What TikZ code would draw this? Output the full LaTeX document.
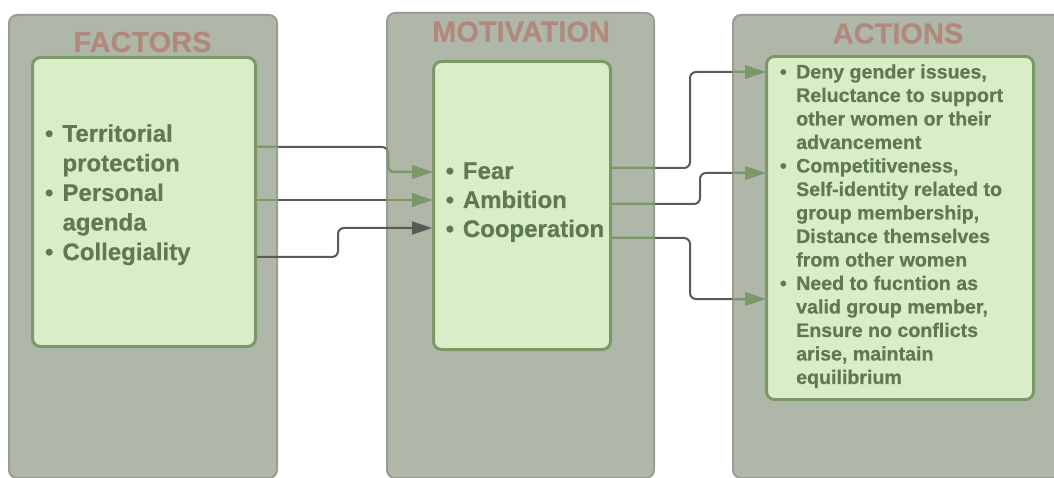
\documentclass[tikz,border=0pt]{standalone}
\usepackage{fontspec}
\setmainfont{Liberation Sans}[BoldFont={Liberation Sans Bold}, BoldFeatures={FakeBold=0.5}]
\usetikzlibrary{arrows.meta}

\definecolor{panelfill}{HTML}{AFB8A8}
\definecolor{panelline}{HTML}{9A9C98}
\definecolor{boxfill}{HTML}{D9EDC8}
\definecolor{boxline}{HTML}{7A9966}
\definecolor{itemtext}{HTML}{5E7A4E}
\definecolor{headtext}{HTML}{B2887C}
\definecolor{wire}{HTML}{595959}
\definecolor{wiregreen}{HTML}{7A9966}

% one bullet column of a given width
\newcommand\bulcol[1]{\makebox[#1][l]{•}}

\begin{document}
\begin{tikzpicture}[x=1pt,y=-1pt,
  panel/.style={draw=panelline, line width=2pt, fill=panelfill,
    rounded corners=8pt, anchor=north west, inner sep=0pt},
  innerbox/.style={draw=boxline, line width=3pt, fill=boxfill,
    rounded corners=8pt, anchor=north west, inner sep=0pt},
  heading/.style={text=headtext, font=\bfseries\fontsize{29}{34}\selectfont,
    anchor=base, inner sep=0pt},
  itemlist/.style={text=itemtext, anchor=base west, inner sep=0pt},
  wireline/.style={draw=wire, line width=2pt, rounded corners=6pt,
    -{Triangle[length=20pt,width=13pt]}},
  greenline/.style={wireline, draw=wiregreen},
]
\useasboundingbox (0,0) rectangle (1054,478);

% column panels
\node[panel, minimum width=268pt, minimum height=463pt] (fpanel) at (8,14) {};
\node[panel, minimum width=267pt, minimum height=465pt] (mpanel) at (386,12) {};
\node[panel, minimum width=330pt, minimum height=463pt] (apanel) at (732,14) {};

% headings
\node[heading] (ftitle) at (142.5,52) {FACTORS};
\node[heading] (mtitle) at (521,41.7) {MOTIVATION};
\node[heading] (atitle) at (898,43.5) {ACTIONS};

% content boxes
\node[innerbox, minimum width=223pt, minimum height=289pt] (fbox) at (31,56) {};
\node[innerbox, minimum width=177pt, minimum height=288pt] (mbox) at (432,60) {};
\node[innerbox, minimum width=267pt, minimum height=343pt] (abox) at (765,55) {};

% item lists
\node[itemlist, font=\bfseries\fontsize{24}{29.6}\selectfont] (flist) at (44.8,141.7)
  {\begin{tabular}[t]{@{}l@{}l@{}}
   \bulcol{17.5pt} & Territorial\\
                   & protection\\
   \bulcol{17.5pt} & Personal\\
                   & agenda\\
   \bulcol{17.5pt} & Collegiality
   \end{tabular}};
\node[itemlist, font=\bfseries\fontsize{24}{29}\selectfont] (mlist) at (445.5,179)
  {\begin{tabular}[t]{@{}l@{}l@{}}
   \bulcol{17.2pt} & Fear\\
   \bulcol{17.2pt} & Ambition\\
   \bulcol{17.2pt} & Cooperation
   \end{tabular}};
\node[itemlist, font=\bfseries\fontsize{19.6}{23.5}\selectfont] (alist) at (779.7,78.5)
  {\begin{tabular}[t]{@{}l@{}l@{}}
   \bulcol{16.3pt} & Deny gender issues,\\
                   & Reluctance to support\\
                   & other women or their\\
                   & advancement\\
   \bulcol{16.3pt} & Competitiveness,\\
                   & Self-identity related to\\
                   & group membership,\\
                   & Distance themselves\\
                   & from other women\\
   \bulcol{16.3pt} & Need to fucntion as\\
                   & valid group member,\\
                   & Ensure no conflicts\\
                   & arise, maintain\\
                   & equilibrium
   \end{tabular}};

% connector ports on the box edges
\path (fbox.north east) ++(0,91)  coordinate (f1)
      (fbox.north east) ++(0,144) coordinate (f2)
      (fbox.north east) ++(0,201) coordinate (f3);
\path (mbox.north west) ++(0,112) coordinate (m1)
      (mbox.north west) ++(0,140) coordinate (m2)
      (mbox.north west) ++(0,168) coordinate (m3);
\path (mbox.north east) ++(0,108) coordinate (m4)
      (mbox.north east) ++(0,144) coordinate (m5)
      (mbox.north east) ++(0,178) coordinate (m6);
\path (abox.north west) ++(0,17)  coordinate (a1)
      (abox.north west) ++(0,118) coordinate (a2)
      (abox.north west) ++(0,244) coordinate (a3);

% connectors
\draw[wireline] (f1) -- ++(131,0) |- (m1);
\draw[wireline] (f2) -- (m2);
\draw[wireline] (f3) -- ++(81,0) |- (m3);
\draw[wireline] (m4) -- ++(78,0) |- (a1);
\draw[wireline] (m5) -- ++(88,0) |- (a2);
\draw[wireline] (m6) -- ++(78,0) |- (a3);

% the same connectors take the green tint where they cross a panel
\begin{scope}
  \clip (fpanel.north west) rectangle (fpanel.south east)
        (mpanel.north west) rectangle (mpanel.south east)
        (apanel.north west) rectangle (apanel.south east);
  \draw[greenline] (f1) -- ++(131,0) |- (m1);
  \draw[greenline] (f2) -- (m2);
  \draw[greenline] (m4) -- ++(78,0) |- (a1);
  \draw[greenline] (m5) -- ++(88,0) |- (a2);
  \draw[greenline] (m6) -- ++(78,0) |- (a3);
\end{scope}
\end{tikzpicture}
\end{document}
